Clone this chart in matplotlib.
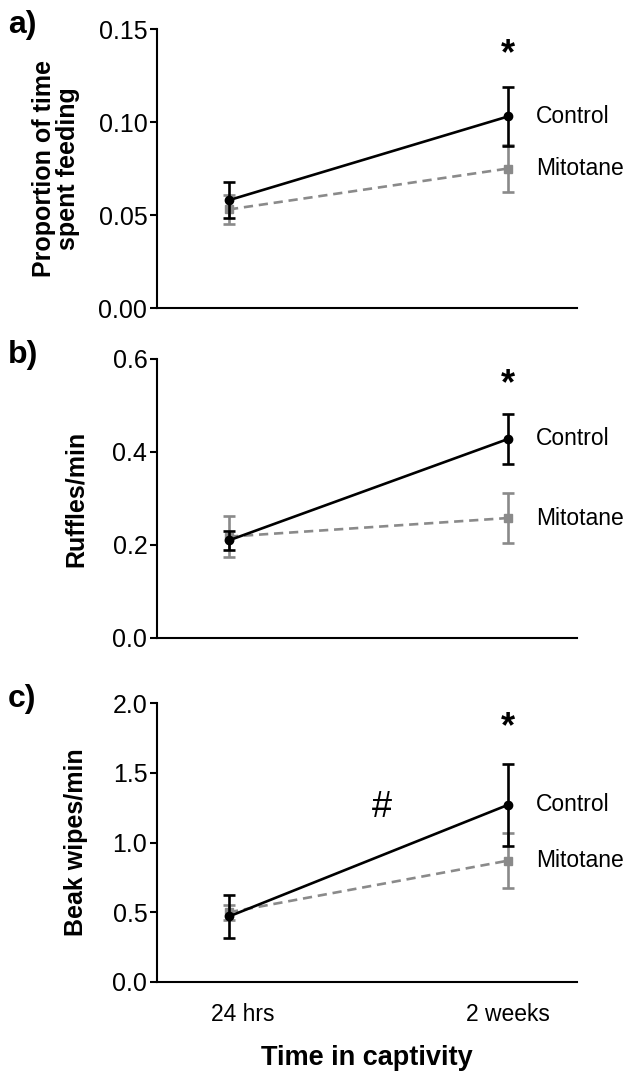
import matplotlib.pyplot as plt

plt.rcParams['font.family'] = ['Liberation Sans', 'DejaVu Sans']

# Time points
x = [0, 1]
xlabels = ["24 hrs", "2 weeks"]

# a) proportion of time spent feeding
feed_ctrl = [0.058, 0.103]
feed_ctrl_err = [0.0095, 0.016]
feed_mito = [0.053, 0.075]
feed_mito_err = [0.008, 0.0125]

# b) ruffles/min
ruff_ctrl = [0.210, 0.428]
ruff_ctrl_err = [0.021, 0.053]
ruff_mito = [0.218, 0.258]
ruff_mito_err = [0.044, 0.053]

# c) beak wipes/min
beak_ctrl = [0.47, 1.27]
beak_ctrl_err = [0.155, 0.293]
beak_mito = [0.50, 0.87]
beak_mito_err = [0.052, 0.197]

panels = [
    ("a)", "Proportion of time\nspent feeding", feed_ctrl, feed_ctrl_err, feed_mito, feed_mito_err,
     0.15, [0.00, 0.05, 0.10, 0.15], "%.2f", 0.136, -0.183),
    ("b)", "Ruffles/min", ruff_ctrl, ruff_ctrl_err, ruff_mito, ruff_mito_err,
     0.6, [0.0, 0.2, 0.4, 0.6], "%.1f", 0.545, -0.164),
    ("c)", "Beak wipes/min", beak_ctrl, beak_ctrl_err, beak_mito, beak_mito_err,
     2.0, [0.0, 0.5, 1.0, 1.5, 2.0], "%.1f", 1.82, -0.164),
]

fig = plt.figure(figsize=(6.25, 10.71), dpi=100)
bottoms = [0.7124, 0.4043, 0.0831]
gray = '#8a8a8a'

for (lab, ylab, c, ce, m, me, ymax, yt, fmt, star, ylx), b in zip(panels, bottoms):
    ax = fig.add_axes([0.2512, b, 0.672, 0.2605])
    ax.errorbar(x, m, yerr=me, color=gray, ls=(0, (3.5, 2.2)), lw=1.9,
                marker='s', ms=6, capsize=4.5, elinewidth=1.9, capthick=1.9, zorder=2)
    ax.errorbar(x, c, yerr=ce, color='black', ls='-', lw=1.9,
                marker='o', ms=6, capsize=4.5, elinewidth=1.9, capthick=1.9, zorder=3)
    ax.set_xlim(-0.258, 1.247)
    ax.set_ylim(0, ymax)
    ax.set_yticks(yt)
    ax.set_yticklabels([fmt % v for v in yt])
    ax.set_xticks([0.05, 1.0])
    if lab == "c)":
        ax.set_xticklabels(xlabels, fontsize=16.5)
        ax.tick_params(axis='x', length=0, pad=15)
    else:
        ax.set_xticklabels([])
        ax.tick_params(axis='x', length=0)
    ax.tick_params(axis='y', labelsize=18, width=1.5, length=5, pad=2)
    for s in ['top', 'right']:
        ax.spines[s].set_visible(False)
    for s in ['left', 'bottom']:
        ax.spines[s].set_linewidth(1.5)
    ax.set_ylabel(ylab, fontsize=18, fontweight='bold', linespacing=1.0)
    ax.yaxis.set_label_coords(ylx, 0.5)
    ax.annotate("Control", (x[1], c[1]), xytext=(20, 0), textcoords='offset points',
                va='center', fontsize=16.5)
    ax.annotate("Mitotane", (x[1], m[1]), xytext=(20, 0), textcoords='offset points',
                va='center', fontsize=16.5)
    ax.text(x[1], star, "*", ha='center', va='center', fontsize=26, fontweight='bold')
    ax.text(-0.355, 1.015, lab, transform=ax.transAxes, fontsize=23, fontweight='bold',
            ha='left', va='center')
    if lab == "c)":
        ax.text(0.548, 1.25, "#", ha='center', va='center', fontsize=26)
        ax.set_xlabel("Time in captivity", fontsize=19.5, fontweight='bold', labelpad=14)

fig.savefig("out.png", dpi=100)
